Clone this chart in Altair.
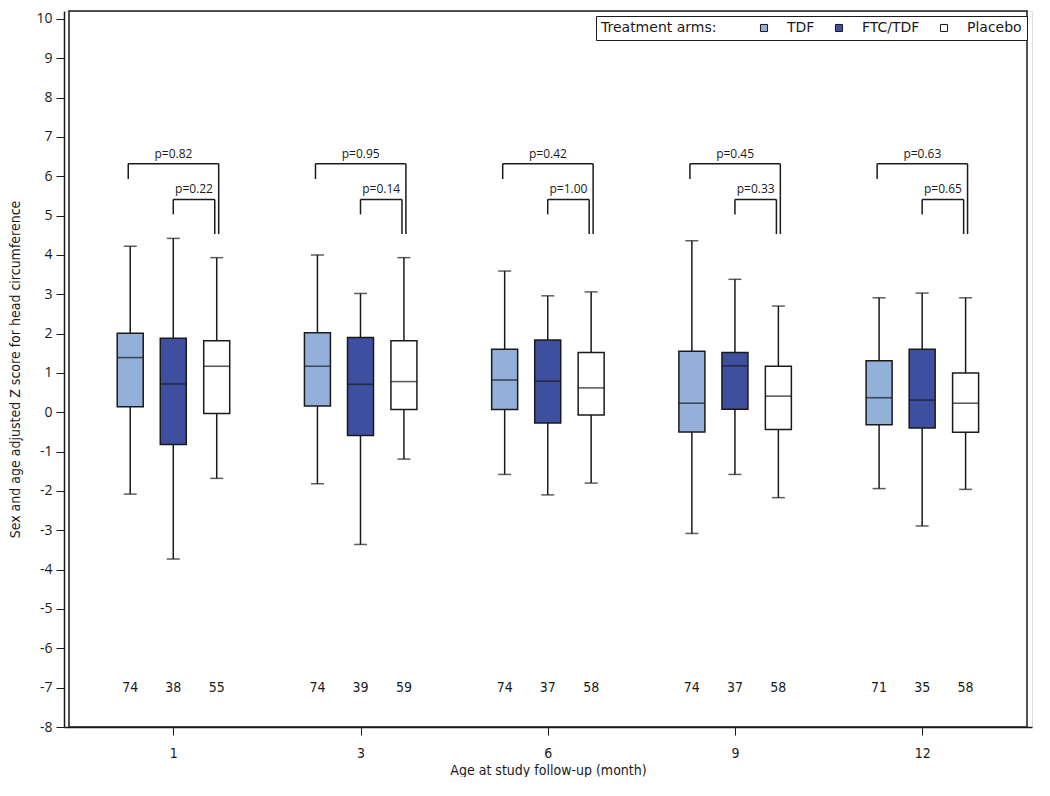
import altair as alt
import pandas as pd

# ---- data ----
months = ["1", "3", "6", "9", "12"]
arms = ["TDF", "FTC/TDF", "Placebo"]

# per arm, one value per month (1, 3, 6, 9, 12)
upper = {
    "TDF":     [4.22, 4.00, 3.59, 4.36, 2.91],
    "FTC/TDF": [4.42, 3.02, 2.96, 3.38, 3.03],
    "Placebo": [3.93, 3.93, 3.06, 2.70, 2.91],
}
q3 = {
    "TDF":     [2.01, 2.02, 1.60, 1.55, 1.31],
    "FTC/TDF": [1.88, 1.90, 1.84, 1.52, 1.60],
    "Placebo": [1.82, 1.82, 1.52, 1.17, 1.00],
}
median = {
    "TDF":     [1.39, 1.17, 0.82, 0.23, 0.37],
    "FTC/TDF": [0.72, 0.71, 0.79, 1.18, 0.31],
    "Placebo": [1.17, 0.78, 0.62, 0.41, 0.23],
}
q1 = {
    "TDF":     [0.14, 0.16, 0.07, -0.50, -0.32],
    "FTC/TDF": [-0.82, -0.59, -0.27, 0.08, -0.40],
    "Placebo": [-0.03, 0.07, -0.07, -0.44, -0.51],
}
lower = {
    "TDF":     [-2.08, -1.82, -1.58, -3.08, -1.94],
    "FTC/TDF": [-3.73, -3.36, -2.10, -1.58, -2.89],
    "Placebo": [-1.68, -1.19, -1.80, -2.17, -1.96],
}
counts = {
    "TDF":     [74, 74, 74, 74, 71],
    "FTC/TDF": [38, 39, 37, 37, 35],
    "Placebo": [55, 59, 58, 58, 58],
}
p_tdf_vs_placebo = ["p=0.82", "p=0.95", "p=0.42", "p=0.45", "p=0.63"]
p_ftc_vs_placebo = ["p=0.22", "p=0.14", "p=1.00", "p=0.33", "p=0.65"]
y_ticks = list(range(-8, 11))

colors = ["#92B0DA", "#3F4FA0", "#FFFFFF"]

# ---- layout constants (within-group arm offsets, bracket levels) ----
arm_shift = {"TDF": -0.23, "FTC/TDF": 0.0, "Placebo": 0.232}
gap = 0.0105
outer_top, outer_left_end, right_end = 6.32, 5.93, 4.53
inner_top, inner_left_end = 5.41, 5.03
x_dom = [-0.557, 4.56]
y_dom = [-8, 10.2]

rows = []
for arm in arms:
    for i, m in enumerate(months):
        rows.append(dict(
            month=m, arm=arm, xpos=i + arm_shift[arm],
            upper=upper[arm][i], q3=q3[arm][i], median=median[arm][i],
            q1=q1[arm][i], lower=lower[arm][i], n=str(counts[arm][i]),
        ))
df = pd.DataFrame(rows)

seg = []
ptxt = []
for i, m in enumerate(months):
    xl = i + arm_shift["TDF"] - gap
    xr = i + arm_shift["Placebo"] + gap
    xil = i + arm_shift["FTC/TDF"]
    xir = i + arm_shift["Placebo"] - gap
    seg += [
        dict(x=xl, x2=xr, y=outer_top, y2=outer_top),
        dict(x=xl, x2=xl, y=outer_left_end, y2=outer_top),
        dict(x=xr, x2=xr, y=right_end, y2=outer_top),
        dict(x=xil, x2=xir, y=inner_top, y2=inner_top),
        dict(x=xil, x2=xil, y=inner_left_end, y2=inner_top),
        dict(x=xir, x2=xir, y=right_end, y2=inner_top),
    ]
    ptxt += [
        dict(x=(xl + xr) / 2, y=outer_top, label=p_tdf_vs_placebo[i]),
        dict(x=(xil + xir) / 2, y=inner_top, label=p_ftc_vs_placebo[i]),
    ]
seg_df = pd.DataFrame(seg)
p_df = pd.DataFrame(ptxt)

FONT = "Open Sans"
NARROW = "DejaVu Sans Condensed, Roboto, sans-serif"
WIDE = "DejaVu Sans"
INK = "#1a1a1a"

xscale = alt.Scale(domain=x_dom, nice=False, zero=False)
yscale = alt.Scale(domain=y_dom, nice=False, zero=False)

label_expr = "[" + ",".join("'" + m + "'" for m in months) + "][datum.value]"

x_axis = alt.Axis(
    title="Age at study follow-up (month)", values=[0, 1, 2, 3, 4],
    tickCount=10, labelExpr=label_expr, grid=False, tickSize=8,
    labelPadding=11, labelFont=NARROW, labelFontSize=14, titleFont=NARROW,
    titleFontSize=14, titleFontWeight="normal", titlePadding=3, domain=True,
    domainColor=INK, domainWidth=1.5, tickColor=INK, labelColor=INK,
    titleColor=INK, labelOverlap=False,
)
y_axis = alt.Axis(
    title="Sex and age adjusted Z score for head circumference",
    values=y_ticks, tickCount=40, labelExpr="'' + datum.value",
    grid=False, tickSize=8, labelPadding=4,
    labelFont=FONT, labelFontSize=14, titleFont=NARROW, titleFontSize=14,
    titleFontWeight="normal", titlePadding=12, domain=True, domainColor=INK,
    domainWidth=1.5, minExtent=30, maxExtent=30, labelOverlap=False,
    tickColor=INK, labelColor=INK, titleColor=INK,
)


def X(field):
    return alt.X(field, scale=xscale, axis=x_axis)


def Y(field):
    return alt.Y(field, scale=yscale, axis=y_axis)


base = alt.Chart(df)

whisker = base.mark_rule(color=INK, strokeWidth=1.5).encode(
    x=X("xpos:Q"), y=Y("lower:Q"), y2="upper:Q")

caps_hi = base.mark_tick(orient="horizontal", size=13, thickness=1.5, color=INK).encode(
    x=X("xpos:Q"), y=Y("upper:Q"))
caps_lo = base.mark_tick(orient="horizontal", size=13, thickness=1.5, color=INK).encode(
    x=X("xpos:Q"), y=Y("lower:Q"))

box = base.mark_bar(size=26, stroke=INK, strokeWidth=1.5, opacity=1).encode(
    x=X("xpos:Q"), y=Y("q1:Q"), y2="q3:Q",
    color=alt.Color(
        "arm:N", sort=arms,
        scale=alt.Scale(domain=arms, range=colors),
        legend=alt.Legend(
            title="Treatment arms:", orient="top-right", direction="horizontal",
            titleOrient="left", titleFont=WIDE, titleFontSize=14,
            titleFontWeight="normal", titleColor=INK, titlePadding=40,
            labelFont=WIDE, labelFontSize=14, labelColor=INK, labelOffset=16,
            symbolType="square", symbolSize=50, symbolStrokeColor=INK,
            symbolStrokeWidth=1, columnPadding=17, strokeColor=INK,
            padding=5, offset=5, fillColor="white", titleBaseline="middle",
            titleAnchor="middle",
        ),
    ),
)

med = base.mark_tick(orient="horizontal", size=26, thickness=1.6, color=INK).encode(
    x=X("xpos:Q"), y=Y("median:Q"))

n_text = base.mark_text(font=NARROW, fontSize=14, color=INK, baseline="middle").encode(
    x=X("xpos:Q"), y=alt.datum(-7), text="n:N")

brackets = alt.Chart(seg_df).mark_rule(color=INK, strokeWidth=1.5).encode(
    x=X("x:Q"), x2="x2:Q", y=Y("y:Q"), y2="y2:Q")

p_labels = alt.Chart(p_df).mark_text(
    font=FONT, fontSize=12, color=INK, baseline="bottom", dy=-3).encode(
    x=X("x:Q"), y=Y("y:Q"), text="label:N")

# plot frame drawn through the scales at the domain limits
frame = alt.Chart(pd.DataFrame({"k": [0]})).mark_rect(
    filled=False, stroke=INK, strokeWidth=1.5).encode(
    x=alt.X(datum=x_dom[0], type="quantitative", scale=xscale, axis=x_axis),
    x2=alt.X2(datum=x_dom[1]),
    y=alt.Y(datum=y_dom[0], type="quantitative", scale=yscale, axis=y_axis),
    y2=alt.Y2(datum=y_dom[1]),
)

chart = (
    alt.layer(whisker, caps_hi, caps_lo, box, med, n_text, brackets, p_labels, frame)
    .properties(width=968, height=716,
                padding={"left": 0, "top": 2, "right": 2, "bottom": 0})
    .configure_view(stroke=INK, strokeWidth=2, fill="white")
    .configure(background="white")
)

chart.save("out.html", embed_options={"renderer": "svg", "actions": False})
